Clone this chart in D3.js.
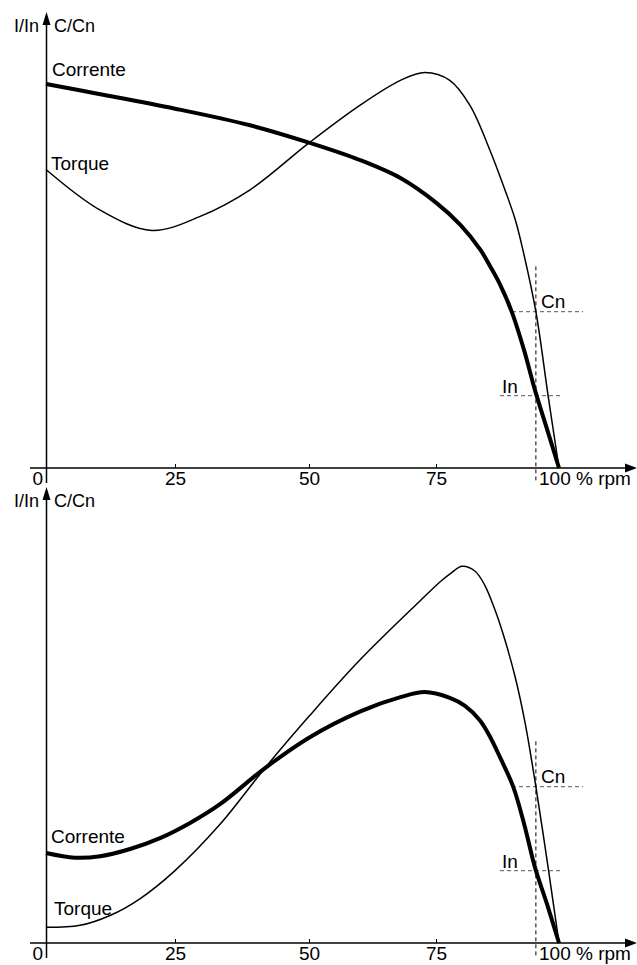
<!DOCTYPE html>
<html><head><meta charset="utf-8">
<script src="https://cdn.jsdelivr.net/npm/d3@7"></script>
<style>
html,body{margin:0;padding:0;background:#fff;}
svg text{font-family:"Liberation Sans",Arial,sans-serif;fill:#000;}
</style></head>
<body>
<svg id="chart" width="637" height="965"></svg>
<script>
// ---- data ----
const rpmTicks = [25, 50, 75];
const rpmTickPos = [0, 25, 50, 75, 100];
const nominalSpeed = 95.3;

// Top panel
const topCurrentSpeed = [0, 10.5, 25, 39, 50, 60, 68, 75, 80, 84, 86, 88, 90.4, 92.9, 95.1, 97.6, 100];
const topCurrent      = [5.31, 5.17, 4.97, 4.74, 4.50, 4.26, 4.01, 3.67, 3.36, 3.02, 2.79, 2.54, 2.16, 1.63, 1.08, 0.53, 0];
const topTorqueSpeed  = [0, 10.5, 20.5, 29.7, 39, 50, 60, 68, 72.8, 77.8, 81.9, 86, 89, 91.1, 92.7, 95.3, 97.8, 100];
const topTorque       = [1.91, 1.65, 1.52, 1.61, 1.78, 2.08, 2.32, 2.48, 2.53, 2.48, 2.32, 2.03, 1.78, 1.59, 1.39, 1.0, 0.46, 0];

// Bottom panel
const botCurrentSpeed = [0, 5.6, 10.5, 16.3, 22.1, 27.8, 33.4, 41.8, 50, 60, 68, 72.8, 77.8, 80.9, 83.9, 86, 88, 90.7, 92.9, 95.1, 97.6, 100];
const botCurrent      = [1.245, 1.18, 1.20, 1.30, 1.45, 1.66, 1.92, 2.42, 2.84, 3.20, 3.40, 3.47, 3.39, 3.28, 3.08, 2.85, 2.57, 2.16, 1.65, 1.05, 0.53, 0];
const botTorqueSpeed  = [0, 6.6, 12.4, 18.2, 25, 33.4, 41.8, 50, 60, 71.9, 75.8, 78.2, 80.3, 82.9, 84.9, 87, 89, 91.1, 93.1, 95.3, 97.8, 100];
const botTorque       = [0.10, 0.113, 0.176, 0.283, 0.463, 0.759, 1.12, 1.45, 1.81, 2.19, 2.31, 2.37, 2.41, 2.38, 2.29, 2.13, 1.94, 1.70, 1.41, 1.0, 0.48, 0];

const labels = {yLeft: "I/In", yRight: "C/Cn", current: "Corrente", torque: "Torque", cn: "Cn", inom: "In", zero: "0", end: "100 % rpm"};

// ---- drawing ----
const svg = d3.select("#chart");
svg.append("rect").attr("width", 637).attr("height", 965).attr("fill", "#fff");

const x = d3.scaleLinear().domain(rpmTickPos).range([46, 175, 309, 436, 559]);
const FS = 19;

function panel(offset, curSpeed, cur, torSpeed, tor, lab) {
  const axisY = 468 + offset;
  const g = svg.append("g");
  const yI = d3.scaleLinear().domain([0, 1]).range([axisY, axisY - 72.3]);
  const yC = d3.scaleLinear().domain([0, 1]).range([axisY, axisY - 156.3]);

  // x axis
  const ax = d3.axisBottom(x).tickValues(rpmTicks).tickSizeInner(-4).tickSizeOuter(0).tickPadding(4);
  const axg = g.append("g").attr("transform", `translate(0,${axisY})`).call(ax);
  axg.select(".domain").remove();
  axg.selectAll(".tick line").attr("stroke", "#000").attr("stroke-width", 1);
  axg.selectAll(".tick text").attr("font-size", FS).attr("font-family", '"Liberation Sans",Arial,sans-serif').attr("fill", "#000");
  g.append("line").attr("x1", 30).attr("x2", 628).attr("y1", axisY).attr("y2", axisY).attr("stroke", "#000").attr("stroke-width", 1.5);
  g.append("path").attr("d", `M637,${axisY} L625,${axisY-4.5} L625,${axisY+4.5} Z`).attr("fill", "#000");

  // y axis
  const yx = x(0) + 0.5;
  g.append("line").attr("x1", yx).attr("x2", yx).attr("y1", offset + 22).attr("y2", axisY + 15).attr("stroke", "#000").attr("stroke-width", 1.5);
  g.append("path").attr("d", `M${yx},${offset+12} L${yx-4},${offset+25} L${yx+4},${offset+25} Z`).attr("fill", "#000");

  g.append("text").attr("x", 39).attr("y", offset + 32).attr("text-anchor", "end").attr("font-size", FS - 1).text(labels.yLeft);
  g.append("text").attr("x", 54).attr("y", offset + 32).attr("font-size", FS - 1).text(labels.yRight);
  g.append("text").attr("x", 43).attr("y", axisY + 17).attr("text-anchor", "end").attr("font-size", FS).text(labels.zero);
  g.append("text").attr("x", 539).attr("y", axisY + 17).attr("font-size", FS).text(labels.end);

  // nominal reference lines
  const xn = x(nominalSpeed);
  g.append("line").attr("x1", xn).attr("x2", xn).attr("y1", yC(1.29)).attr("y2", axisY + 14)
    .attr("stroke", "#000").attr("stroke-width", 1).attr("stroke-dasharray", "4,3");
  g.append("line").attr("x1", 512).attr("x2", 583).attr("y1", yC(1)).attr("y2", yC(1))
    .attr("stroke", "#555").attr("stroke-width", 1).attr("stroke-dasharray", "4,3");
  g.append("line").attr("x1", 500).attr("x2", 562).attr("y1", yI(1)).attr("y2", yI(1))
    .attr("stroke", "#555").attr("stroke-width", 1).attr("stroke-dasharray", "4,3");
  g.append("text").attr("x", 541).attr("y", yC(1) - 4).attr("font-size", FS).text(labels.cn);
  g.append("text").attr("x", 502).attr("y", yI(1) - 3).attr("font-size", FS).text(labels.inom);

  // curves
  const lineI = d3.line().x(d => x(d[0])).y(d => yI(d[1])).curve(d3.curveCatmullRom.alpha(0.5));
  const lineC = d3.line().x(d => x(d[0])).y(d => yC(d[1])).curve(d3.curveCatmullRom.alpha(0.5));
  g.append("path").datum(torSpeed.map((s, i) => [s, tor[i]])).attr("d", lineC)
    .attr("fill", "none").attr("stroke", "#000").attr("stroke-width", 1.5);
  g.append("path").datum(curSpeed.map((s, i) => [s, cur[i]])).attr("d", lineI)
    .attr("fill", "none").attr("stroke", "#000").attr("stroke-width", 4).attr("stroke-linejoin", "round");

  g.append("text").attr("x", lab.cx).attr("y", lab.cy).attr("font-size", FS).text(labels.current);
  g.append("text").attr("x", lab.tx).attr("y", lab.ty).attr("font-size", FS).text(labels.torque);
}

panel(0, topCurrentSpeed, topCurrent, topTorqueSpeed, topTorque, {cx: 52, cy: 76, tx: 51, ty: 170});
panel(475, botCurrentSpeed, botCurrent, botTorqueSpeed, botTorque, {cx: 51, cy: 843, tx: 54, ty: 915});
</script>
</body></html>
